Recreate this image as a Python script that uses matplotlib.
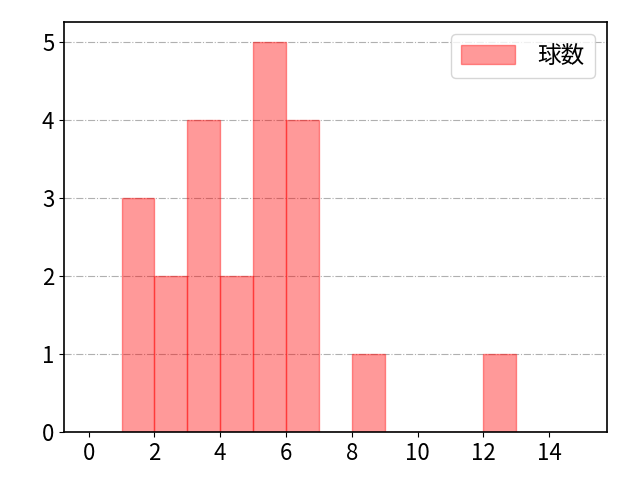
import numpy as np
import matplotlib
matplotlib.use('Agg')
import matplotlib.pyplot as plt

plt.rcParams['font.family'] = ['Noto Sans CJK JP', 'DejaVu Sans']

# observed values (one entry per game)
values = [1, 1, 1, 2, 2, 3, 3, 3, 3, 4, 4,
          5, 5, 5, 5, 5, 6, 6, 6, 6, 8, 12]
bin_edges = np.arange(0, 16)
label = '球数'

fig, ax = plt.subplots(figsize=(6.4, 4.8), dpi=100)
ax.hist(values, bins=bin_edges, color='red', alpha=0.4, edgecolor='red', label=label)
ax.set_xlim(-0.75, 15.75)
ax.set_xticks(np.arange(0, 16, 2))
ax.set_ylim(0, 5.25)
ax.grid(axis='y', linestyle='-.', color='#b0b0b0')
ax.set_axisbelow(True)
ax.tick_params(labelsize=16)
for s in ax.spines.values():
    s.set_linewidth(1.2)
ax.legend(fontsize=17, loc='upper right', handlelength=2.25, handleheight=0.85,
          handletextpad=0.95, borderpad=0.45)
fig.subplots_adjust(left=0.1, right=0.948, top=0.954, bottom=0.1)
fig.savefig('out.png')
